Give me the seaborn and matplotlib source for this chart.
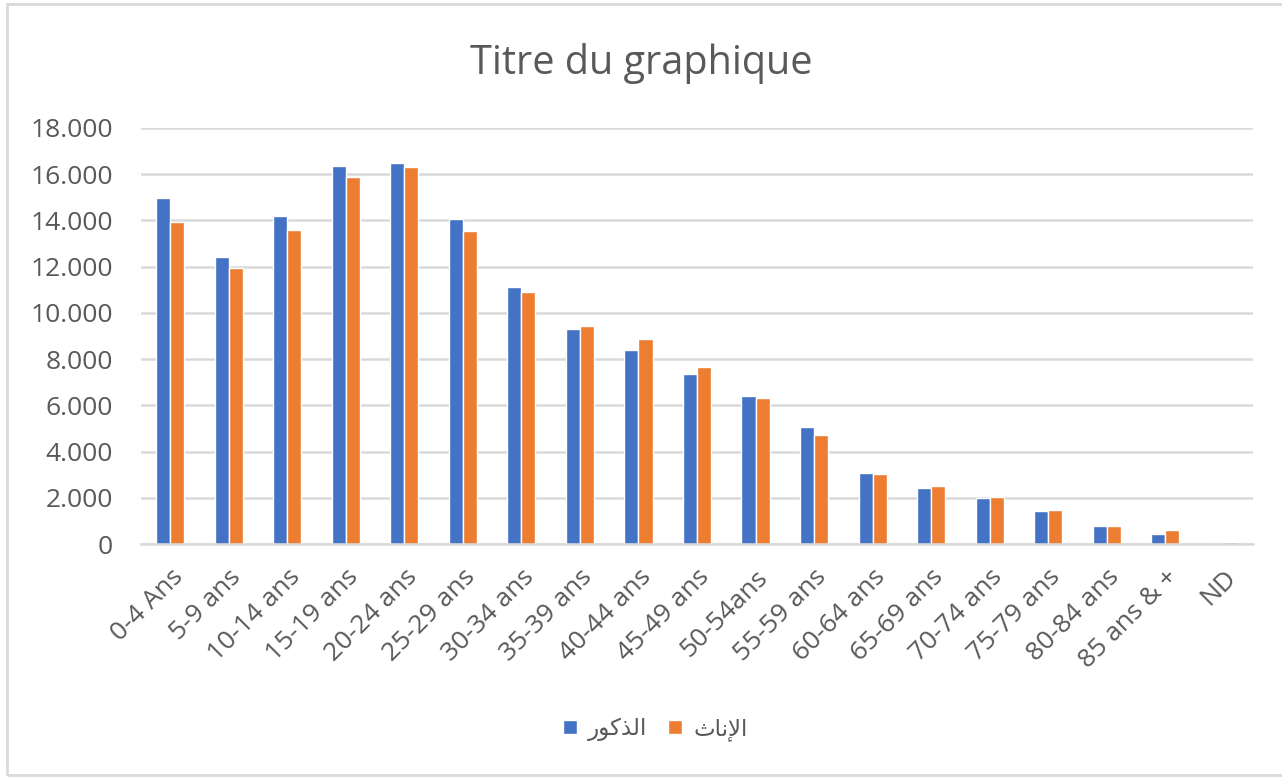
import pandas as pd
import matplotlib
matplotlib.use("Agg")
import matplotlib.pyplot as plt
import matplotlib.ticker as mticker
from matplotlib.patches import Rectangle
import seaborn as sns

# =========================
# data
# =========================
age_groups = ["0-4 Ans", "5-9 ans", "10-14 ans", "15-19 ans", "20-24 ans",
              "25-29 ans", "30-34 ans", "35-39 ans", "40-44 ans", "45-49 ans",
              "50-54ans", "55-59 ans", "60-64 ans", "65-69 ans", "70-74 ans",
              "75-79 ans", "80-84 ans", "85 ans & +", "ND"]
males = [14960, 12400, 14210, 16370, 16500, 14080, 11110, 9290, 8410, 7370,
         6390, 5080, 3070, 2440, 1980, 1410, 790, 450, 0]
females = [13950, 11930, 13590, 15870, 16300, 13530, 10890, 9450, 8880, 7650,
           6330, 4730, 3020, 2520, 2030, 1480, 790, 590, 100]

series_names = ["الذكور", "الإناث"]
# matplotlib does no Arabic shaping, so the legend uses presentation forms in visual order
series_display = {
    "الذكور": "\ufead\ufeee\ufedb\ufeac\ufedf\ufe8d",
    "الإناث": "\ufe99\ufe8e\ufee7\ufef9\ufe8d",
}
colors = ["#4472C4", "#ED7D31"]
title = "Titre du graphique"

df = pd.DataFrame({
    "age": age_groups * 2,
    "value": males + females,
    "sexe": [series_names[0]] * len(age_groups) + [series_names[1]] * len(age_groups),
})

# =========================
# style
# =========================
sns.set_style("white")
plt.rcParams["font.family"] = ["Open Sans", "DejaVu Sans"]
grey_txt = "#595959"
grid_col = "#D9D9D9"

fig = plt.figure(figsize=(12.82, 7.77), dpi=100)
ax = fig.add_axes([141 / 1282, 1 - 544 / 777, (1253 - 141) / 1282, (544 - 128) / 777])

sns.barplot(data=df, x="age", y="value", hue="sexe", order=age_groups,
            hue_order=series_names, palette=colors, width=0.48, gap=0,
            saturation=1, ax=ax, legend=True)

ax.set_ylim(0, 18000)
ax.set_xlim(-0.5, len(age_groups) - 0.5)
ax.set_yticks(range(0, 18001, 2000))
ax.yaxis.set_major_formatter(mticker.FuncFormatter(lambda v, p: f"{v:,.0f}".replace(",", ".")))
ax.grid(axis="y", color=grid_col, linewidth=1.8)
ax.set_axisbelow(True)
for s in ["top", "right", "left"]:
    ax.spines[s].set_visible(False)
ax.spines["bottom"].set_color(grid_col)
ax.spines["bottom"].set_linewidth(1.8)
ax.set_xlabel("")
ax.set_ylabel("")
ax.tick_params(axis="y", length=0, pad=20, labelsize=19, labelcolor=grey_txt)
ax.tick_params(axis="x", length=0, pad=15, labelsize=19, labelcolor=grey_txt)
for lbl in ax.get_xticklabels():
    lbl.set_rotation(45)
    lbl.set_ha("right")
    lbl.set_rotation_mode("anchor")

fig.text(0.5, 1 - 64 / 777, title, ha="center", va="center", fontsize=28.5, color=grey_txt)

# legend
handles, labels = ax.get_legend_handles_labels()
ax.legend(handles, [series_display[l] for l in labels], loc="center",
          bbox_to_anchor=(655 / 1282, 1 - 729 / 777), bbox_transform=fig.transFigure,
          ncol=2, frameon=False, fontsize=16.5, handlelength=0.62, handleheight=0.62,
          handletextpad=0.48, columnspacing=0.9, labelcolor=grey_txt)

# chart border
fig.patches.append(Rectangle((7 / 1282, 2 / 777), 1.2, 1 - 6 / 777, transform=fig.transFigure,
                             fill=False, edgecolor=grid_col, linewidth=2))

fig.savefig("out.png", dpi=100)
